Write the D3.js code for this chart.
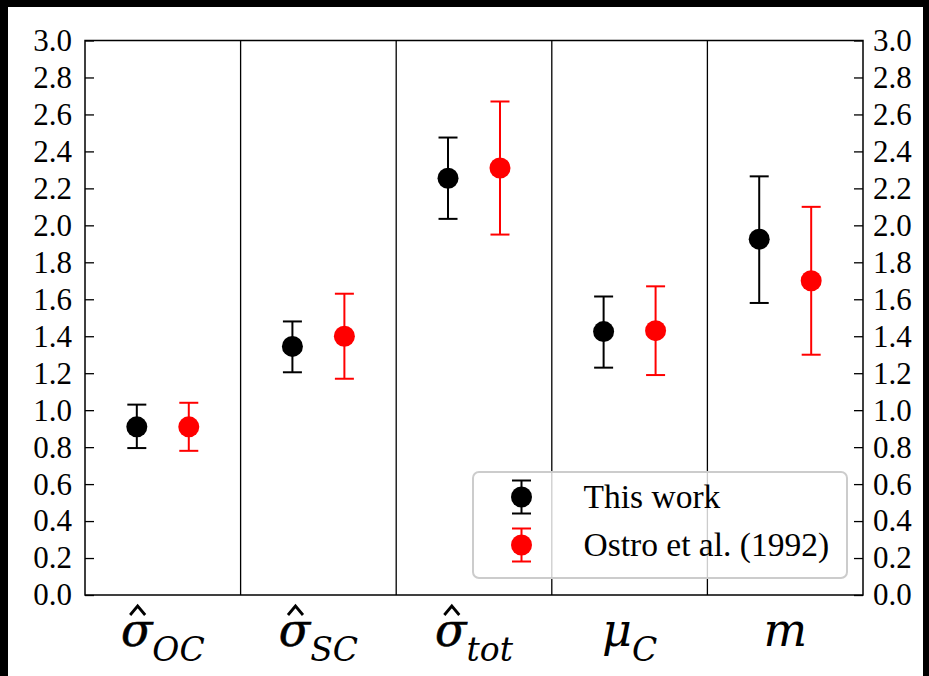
<!DOCTYPE html>
<html>
<head>
    <script src="https://cdn.jsdelivr.net/npm/d3@7"></script>
    <style>
        body { margin: 0; background: black; }
        svg { display: block; }
        text { font-family: "Liberation Serif", "Times New Roman", serif; }
        .xlab { font-family: "DejaVu Serif", serif; }
    </style>
</head>
<body>
<svg id="chart"></svg>
<script>
    // categories (math labels split into parts)
    let labelBase = ["\u03c3", "\u03c3", "\u03c3", "\u03bc", "m"];
    let labelSub = ["OC", "SC", "tot", "C", ""];
    let labelHat = [true, true, true, false, false];

    // This work
    let thisVal = [0.91, 1.345, 2.255, 1.425, 1.925];
    let thisLo = [0.795, 1.205, 2.035, 1.23, 1.58];
    let thisHi = [1.03, 1.48, 2.475, 1.615, 2.265];

    // Ostro et al. (1992)
    let ostroVal = [0.91, 1.40, 2.31, 1.43, 1.70];
    let ostroLo = [0.78, 1.17, 1.95, 1.19, 1.30];
    let ostroHi = [1.04, 1.63, 2.67, 1.67, 2.10];

    let yTicks = [0, 0.2, 0.4, 0.6, 0.8, 1.0, 1.2, 1.4, 1.6, 1.8, 2.0, 2.2, 2.4, 2.6, 2.8, 3.0];
    let legendNames = ["This work", "Ostro et al. (1992)"];

    let width = 929, height = 676;
    let margin = {left: 85, right: 66, top: 40.5, bottom: 81};

    let svg = d3.select("#chart").attr("width", width).attr("height", height);

    // white page inside black frame
    svg.append("rect").attr("x", 8).attr("y", 7)
        .attr("width", 915).attr("height", height - 7).attr("fill", "white");

    let x = d3.scaleLinear().domain([-0.5, 4.5]).range([margin.left, width - margin.right]);
    let y = d3.scaleLinear().domain([0, 3]).range([height - margin.bottom, margin.top]);

    let off = 0.167;

    // panel dividers
    svg.append("g").selectAll("line")
        .data(d3.range(1, labelBase.length))
        .enter().append("line")
        .attr("x1", d => x(d - 0.5)).attr("x2", d => x(d - 0.5))
        .attr("y1", y(0)).attr("y2", y(3))
        .attr("stroke", "black").attr("stroke-width", 1.3);

    // y axes, inward ticks
    let fmt = d3.format(".1f");
    let left = svg.append("g").attr("transform", "translate(" + x(-0.5) + ",0)")
        .call(d3.axisLeft(y).tickValues(yTicks).tickFormat(fmt).tickSizeInner(-9).tickSizeOuter(0).tickPadding(13));
    let right = svg.append("g").attr("transform", "translate(" + x(4.5) + ",0)")
        .call(d3.axisRight(y).tickValues(yTicks).tickFormat(fmt).tickSizeInner(-9).tickSizeOuter(0).tickPadding(10));
    [left, right].forEach(g => {
        g.attr("font-family", "'Liberation Serif', serif").attr("font-size", 31);
        g.select(".domain").remove();
        g.selectAll(".tick line").attr("stroke", "black").attr("stroke-width", 1.3);
        g.selectAll(".tick text").attr("fill", "black");
    });

    // frame
    svg.append("rect")
        .attr("x", x(-0.5)).attr("y", y(3))
        .attr("width", x(4.5) - x(-0.5)).attr("height", y(0) - y(3))
        .attr("fill", "none").attr("stroke", "black").attr("stroke-width", 1.5);

    function drawSeries(vals, lo, hi, color, dx) {
        let g = svg.append("g");
        let pts = g.selectAll("g").data(vals).enter().append("g");
        pts.append("line")
            .attr("x1", (d, i) => x(i + dx)).attr("x2", (d, i) => x(i + dx))
            .attr("y1", (d, i) => y(lo[i])).attr("y2", (d, i) => y(hi[i]))
            .attr("stroke", color).attr("stroke-width", 2);
        pts.append("line")
            .attr("x1", (d, i) => x(i + dx) - 9.5).attr("x2", (d, i) => x(i + dx) + 9.5)
            .attr("y1", (d, i) => y(lo[i])).attr("y2", (d, i) => y(lo[i]))
            .attr("stroke", color).attr("stroke-width", 2);
        pts.append("line")
            .attr("x1", (d, i) => x(i + dx) - 9.5).attr("x2", (d, i) => x(i + dx) + 9.5)
            .attr("y1", (d, i) => y(hi[i])).attr("y2", (d, i) => y(hi[i]))
            .attr("stroke", color).attr("stroke-width", 2);
        pts.append("circle")
            .attr("cx", (d, i) => x(i + dx)).attr("cy", d => y(d))
            .attr("r", 10.5).attr("fill", color);
    }
    drawSeries(thisVal, thisLo, thisHi, "black", -off);
    drawSeries(ostroVal, ostroLo, ostroHi, "red", off);

    // x labels
    let xl = svg.append("g").selectAll("text")
        .data(labelBase).enter().append("text")
        .attr("class", "xlab")
        .attr("x", (d, i) => x(i)).attr("y", 646)
        .attr("text-anchor", "middle")
        .style("font-style", "italic").style("font-size", "46px");
    xl.append("tspan").text(d => d)
        .attr("stroke", "black").attr("stroke-width", (d, i) => labelHat[i] ? 0.6 : 0);
    xl.append("tspan")
        .attr("dy", 15).style("font-size", "33px")
        .text((d, i) => labelSub[i]);
    xl.each(function (d, i) {
        if (!labelHat[i]) return;
        let b = this.getExtentOfChar(0);
        let cx = b.x + b.width / 2 + 1;
        let top = 615;
        svg.append("path")
            .attr("d", d3.line()([[cx - 7.5, top], [cx, top - 9], [cx + 7.5, top]]))
            .attr("fill", "none").attr("stroke", "black").attr("stroke-width", 2.8);
    });

    // legend
    let lg = svg.append("g");
    lg.append("rect")
        .attr("x", 473).attr("y", 472).attr("width", 374).attr("height", 106)
        .attr("rx", 6).attr("fill", "white").attr("fill-opacity", 0.8)
        .attr("stroke", "#cccccc").attr("stroke-width", 2);
    let colors = ["black", "red"];
    let items = lg.selectAll(".item").data(legendNames).enter().append("g")
        .attr("class", "item")
        .attr("transform", (d, i) => "translate(521.5," + (497 + i * 48) + ")");
    items.append("line").attr("y1", -16.5).attr("y2", 16.5)
        .attr("stroke", (d, i) => colors[i]).attr("stroke-width", 2);
    items.append("line").attr("x1", -9.5).attr("x2", 9.5).attr("y1", -16.5).attr("y2", -16.5)
        .attr("stroke", (d, i) => colors[i]).attr("stroke-width", 2);
    items.append("line").attr("x1", -9.5).attr("x2", 9.5).attr("y1", 16.5).attr("y2", 16.5)
        .attr("stroke", (d, i) => colors[i]).attr("stroke-width", 2);
    items.append("circle").attr("r", 10.5).attr("fill", (d, i) => colors[i]);
    items.append("text").attr("x", 62).attr("y", 11)
        .style("font-size", "33.5px").text(d => d);
</script>
</body>
</html>
